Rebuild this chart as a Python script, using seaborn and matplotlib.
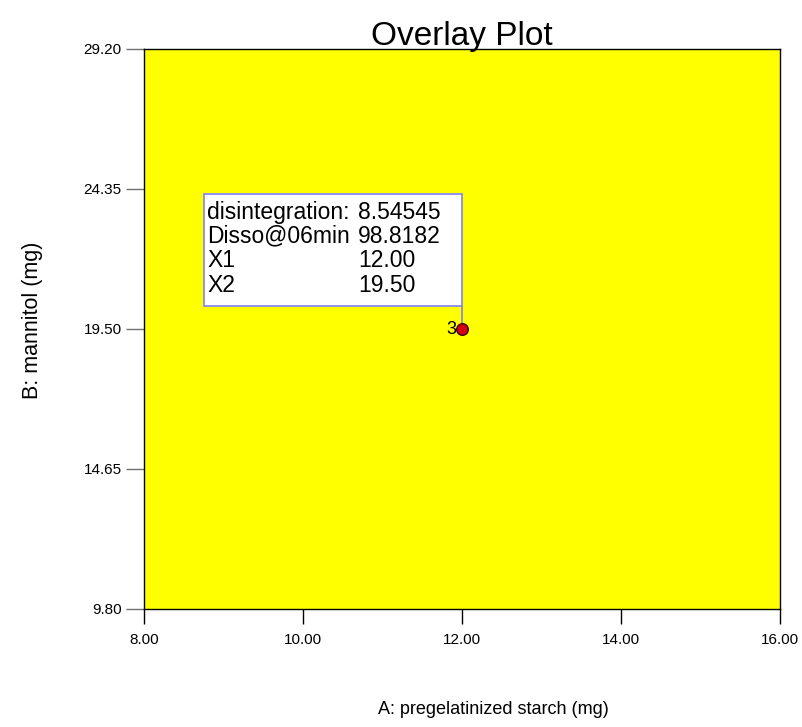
import matplotlib
matplotlib.use("Agg")
import matplotlib.pyplot as plt
import seaborn as sns
import pandas as pd
from matplotlib.patches import Rectangle

sns.set_theme(style="white")
plt.rcParams['font.family'] = ['Liberation Sans', 'DejaVu Sans']
plt.rcParams['text.color'] = 'black'
plt.rcParams['axes.labelcolor'] = 'black'
plt.rcParams['xtick.color'] = 'black'
plt.rcParams['ytick.color'] = 'black'

# Data
x_ticks = [8.00, 10.00, 12.00, 14.00, 16.00]
y_ticks = [9.80, 14.65, 19.50, 24.35, 29.20]
pt_x = [12.00]
pt_y = [19.50]
pt_label = ["3"]
ann_names = ["disintegration:", "Disso@06min", "X1", "X2"]
ann_values = ["8.54545", "98.8182", "12.00", "19.50"]

df = pd.DataFrame({"A": pt_x, "B": pt_y, "lab": pt_label})

fig = plt.figure(figsize=(8.02, 7.27), dpi=100)
ax = fig.add_axes([144/802, 1-609/727, 636/802, 560/727])
ax.set_facecolor("#FFFF00")

sns.scatterplot(data=df, x="A", y="B", ax=ax, s=70, color="#D00010",
                edgecolor="#400000", linewidth=1.0, zorder=5, legend=False)
for xx, yy, lb in zip(df.A, df.B, df.lab):
    ax.annotate(lb, (xx, yy), xytext=(-4, 0), textcoords="offset points",
                ha="right", va="center", fontsize=13, color="black")

ax.set_xlim(x_ticks[0], x_ticks[-1])
ax.set_ylim(y_ticks[0], y_ticks[-1])
ax.set_xticks(x_ticks)
ax.set_yticks(y_ticks)
ax.set_xticklabels([f"{v:.2f}" for v in x_ticks], fontsize=11)
ax.set_yticklabels([f"{v:.2f}" for v in y_ticks], fontsize=11)
ax.tick_params(axis="x", direction="out", length=11, width=1, color="black", pad=6, bottom=True)
ax.tick_params(axis="y", direction="out", length=13, width=1, color="#707070", pad=3, left=True)
for s in ax.spines.values():
    s.set_visible(True)
    s.set_color("black")
    s.set_linewidth(1.0)

ax.set_title("Overlay Plot", fontsize=24, pad=3)
ax.set_xlabel("A: pregelatinized starch (mg)", fontsize=13)
ax.set_ylabel("B: mannitol (mg)", fontsize=15.5)
ax.xaxis.set_label_coords((493 - 144) / 636, (609 - 701) / 560)
ax.yaxis.set_label_coords((43 - 144) / 636, (609 - 320) / 560)

# annotation box (data coords)
bx0, bx1 = 8.755, 12.00
by0, by1 = 20.30, 24.18
ax.add_patch(Rectangle((bx0, by0), bx1 - bx0, by1 - by0, facecolor="white",
                       edgecolor="#8080FF", linewidth=1.2, zorder=3))
ax.plot([pt_x[0], pt_x[0]], [by0, pt_y[0]], color="#8080FF", lw=1.2, zorder=4)
first_row = 23.55
row_h = 0.842
for i, (n, v) in enumerate(zip(ann_names, ann_values)):
    yy = first_row - row_h * i
    ax.text(bx0 + 0.04, yy, n, fontsize=16.5, va="center", ha="left", zorder=6)
    ax.text(10.69, yy, v, fontsize=16.5, va="center", ha="left", zorder=6)

fig.savefig("out.png", dpi=100)
